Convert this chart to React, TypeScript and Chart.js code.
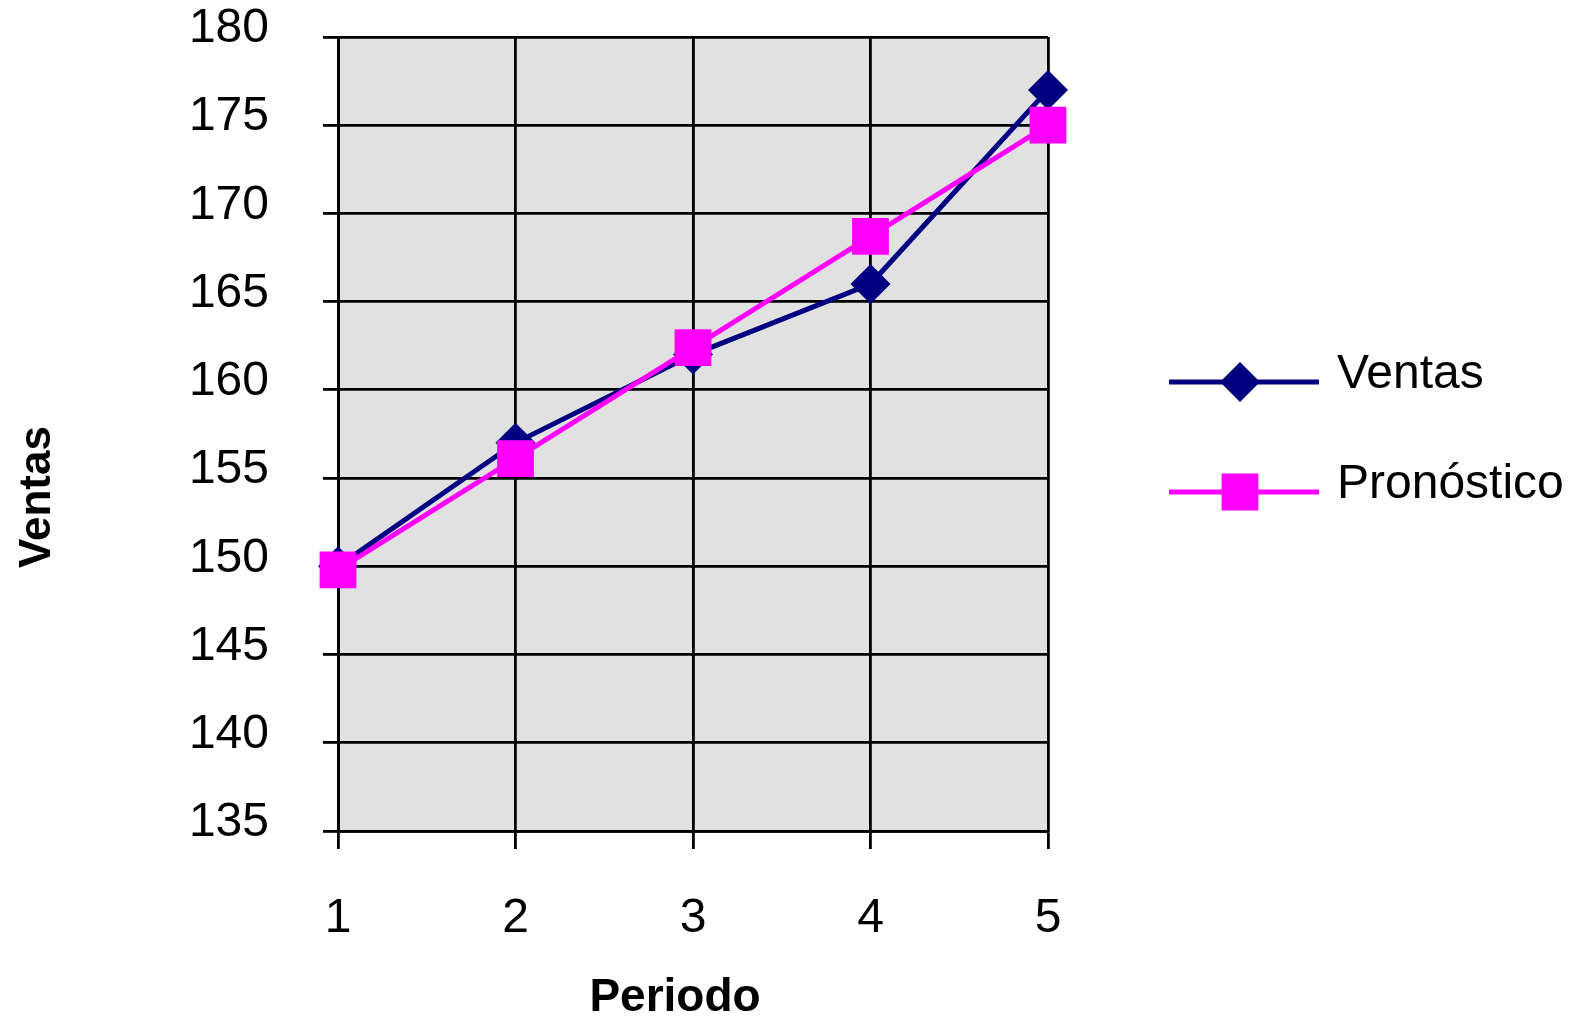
import React, { useEffect, useRef } from 'react';
import { Chart, registerables } from 'chart.js';
import { drawPoint } from 'chart.js/helpers';

Chart.register(...registerables);

// chart data
const periodos = ['1', '2', '3', '4', '5'];
const ventas = [150, 157, 162, 166, 177];
const pronostico = [149.8, 156.1, 162.4, 168.7, 175.0];
const yMin = 135;
const yMax = 180;
const yStep = 5;

const FONT = '"Liberation Sans", Arial, sans-serif';
const NAVY = '#000080';
const MAGENTA = '#ff00ff';

// gray plot area behind the grid
const plotBackground = {
  id: 'plotBackground',
  beforeDraw(chart: any) {
    const { ctx, chartArea } = chart;
    ctx.save();
    ctx.fillStyle = '#e1e1e1';
    ctx.fillRect(chartArea.left, chartArea.top, chartArea.width, chartArea.height);
    ctx.restore();
  },
};

// axis titles + legend on the right (excel style)
const sideText = {
  id: 'sideText',
  afterDraw(chart: any) {
    const { ctx } = chart;
    ctx.save();
    ctx.fillStyle = '#000';

    // y title
    ctx.save();
    ctx.translate(50, 497);
    ctx.rotate(-Math.PI / 2);
    ctx.font = `bold 44px ${FONT}`;
    ctx.textAlign = 'center';
    ctx.textBaseline = 'alphabetic';
    ctx.fillText('Ventas', 0, 0);
    ctx.restore();

    // x title
    ctx.font = `bold 46px ${FONT}`;
    ctx.textAlign = 'center';
    ctx.textBaseline = 'alphabetic';
    ctx.fillText('Periodo', 675, 1011);

    // legend
    const rows = [382, 492];
    chart.data.datasets.forEach((ds: any, i: number) => {
      const y = rows[i];
      ctx.strokeStyle = ds.borderColor;
      ctx.lineWidth = 5;
      ctx.beginPath();
      ctx.moveTo(1169, y);
      ctx.lineTo(1319, y);
      ctx.stroke();
      ctx.fillStyle = ds.pointBackgroundColor;
      drawPoint(ctx, { pointStyle: ds.pointStyle, radius: ds.pointRadius, rotation: 0, borderWidth: 0 }, 1240, y);
      ctx.fillStyle = '#000';
      ctx.font = `48px ${FONT}`;
      ctx.textAlign = 'left';
      ctx.textBaseline = 'alphabetic';
      ctx.fillText(ds.label, 1337, y + 6);
    });
    ctx.restore();
  },
};

const App: React.FC = () => {
  const canvasRef = useRef<HTMLCanvasElement | null>(null);

  useEffect(() => {
    if (!canvasRef.current) return;
    const chart = new Chart(canvasRef.current, {
      type: 'line',
      data: {
        labels: periodos,
        datasets: [
          {
            label: 'Ventas',
            data: ventas,
            borderColor: NAVY,
            backgroundColor: NAVY,
            pointBackgroundColor: NAVY,
            pointBorderColor: NAVY,
            borderWidth: 5,
            pointStyle: 'rectRot',
            pointRadius: 20,
            pointBorderWidth: 0,
            tension: 0,
            clip: false,
            order: 1,
          },
          {
            label: 'Pronóstico',
            data: pronostico,
            borderColor: MAGENTA,
            backgroundColor: MAGENTA,
            pointBackgroundColor: MAGENTA,
            pointBorderColor: MAGENTA,
            borderWidth: 5,
            pointStyle: 'rect',
            pointRadius: 26,
            pointBorderWidth: 0,
            tension: 0,
            clip: false,
            order: 0,
          },
        ],
      },
      options: {
        responsive: false,
        animation: false,
        devicePixelRatio: 1,
        events: [],
        layout: { padding: { top: 37, right: 529, bottom: 0, left: 0 } },
        plugins: {
          legend: { display: false },
          tooltip: { enabled: false },
        },
        scales: {
          x: {
            afterFit: (scale: any) => {
              scale.height = 190;
              scale.paddingLeft = 0;
              scale.paddingRight = 0;
            },
            grid: { color: '#000', lineWidth: 2.8, tickLength: 18, tickColor: '#000', tickWidth: 2.8 },
            border: { color: '#000', width: 2.8 },
            ticks: {
              color: '#000',
              font: { family: FONT, size: 48 },
              padding: 41,
              maxRotation: 0,
              autoSkip: false,
            },
          },
          y: {
            min: yMin,
            max: yMax,
            afterFit: (scale: any) => {
              scale.width = 338;
              // keep the plot top where it is, labels may poke out
              scale.paddingTop = 0;
              scale.paddingBottom = 0;
            },
            grid: { color: '#000', lineWidth: 2.8, tickLength: 15, tickColor: '#000', tickWidth: 2.8 },
            border: { color: '#000', width: 2.8 },
            ticks: {
              stepSize: yStep,
              color: '#000',
              font: { family: FONT, size: 48, lineHeight: '16px' },
              padding: 54,
              autoSkip: false,
              // excel draws the numbers a bit above their gridline
              callback: (v: any) => [String(v), ''],
            },
          },
        },
      },
      plugins: [plotBackground, sideText],
    });

    return () => {
      chart.destroy();
    };
  }, []);

  return (
    <div style={{ position: 'absolute', left: 0, top: 0, width: 1577, height: 1021, background: '#fff' }}>
      <canvas ref={canvasRef} width={1577} height={1021} style={{ display: 'block' }}></canvas>
    </div>
  );
};

export default App;
